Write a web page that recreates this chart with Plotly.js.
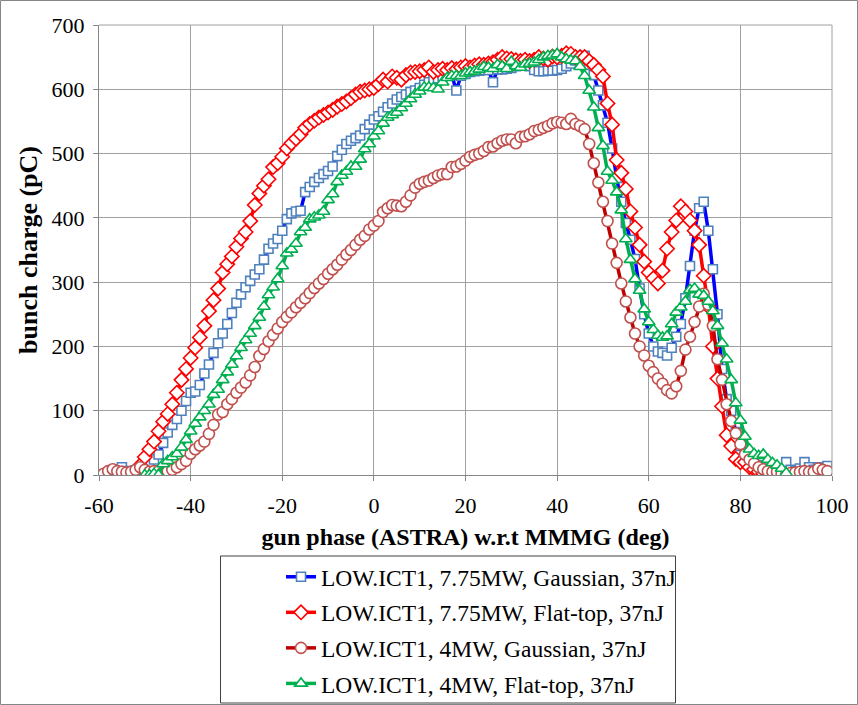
<!DOCTYPE html>
<html><head><meta charset="utf-8">
<script src="https://cdn.plot.ly/plotly-3.0.1.min.js"></script>
<style>body{margin:0;background:#fff}#chart{width:858px;height:705px}</style>
</head><body><div id="chart"></div>
<script>
// LOW.ICT1, 7.75MW, Gaussian, 37nJ
const gaussHighX = [-57,-56,-55,-54,-53,-52,-51,-50,-49,-48,-47,-46,-45,-44,-43,-42,-41,-40,-39,-38,-37,-36,-35,-34,-33,-32,-31,-30,-29,-28,-27,-26,-25,-24,-23,-22,-21,-20,-19,-18,-17,-16,-15,-14,-13,-12,-11,-10,-9,-8,-7,-6,-5,-4,-3,-2,-1,0,1,2,3,4,5,6,7,8,9,10,11,12,13,14,15,16,17,18,19,20,21,22,23,24,25,26,27,28,29,30,31,32,33,34,35,36,37,38,39,40,41,42,43,44,45,46,47,48,49,50,51,52,53,54,55,56,57,58,59,60,61,62,63,64,65,66,67,68,69,70,71,72,73,74,75,76,77,78,79,80,81,82,83,84,85,86,87,88,89,90,91,92,93,94,95,96,97,98,99,100];
const gaussHighY = [6,8,12,6,5,7,8,12,18,24,32,50,66,78,87,100,115,128,130,140,158,172,190,205,220,235,252,268,281,292,302,312,320,335,352,360,367,380,398,407,410,411,440,448,456,462,468,473,480,496,506,515,520,524,528,538,545,553,558,565,572,578,584,588,592,596,598,602,607,611,615,617,620,622,622,598,621,624,627,628,629,630,630,611,631,631,632,633,636,640,638,636,630,628,628,629,629,630,632,636,640,645,650,652,638,622,598,575,548,508,462,425,392,366,336,290,250,220,200,192,190,186,198,215,235,275,325,380,415,425,380,320,250,165,118,100,67,45,36,25,18,15,12,10,8,8,6,20,8,6,10,20,12,8,12,10,14,5];

// LOW.ICT1, 7.75MW, Flat-top, 37nJ
const flatHighX = [-53,-52,-51,-50,-49,-48,-47,-46,-45,-44,-43,-42,-41,-40,-39,-38,-37,-36,-35,-34,-33,-32,-31,-30,-29,-28,-27,-26,-25,-24,-23,-22,-21,-20,-19,-18,-17,-16,-15,-14,-13,-12,-11,-10,-9,-8,-7,-6,-5,-4,-3,-2,-1,0,1,2,3,4,5,6,7,8,9,10,11,12,13,14,15,16,17,18,19,20,21,22,23,24,25,26,27,28,29,30,31,32,33,34,35,36,37,38,39,40,41,42,43,44,45,46,47,48,49,50,51,52,53,54,55,56,57,58,59,60,61,62,63,64,65,66,67,68,69,70,71,72,73,74,75,76,77,78,79,80,81,82,83,84,85,86,87];
const flatHighY = [0,5,15,28,40,52,68,83,95,110,128,148,165,182,198,214,232,255,272,290,315,328,340,355,368,378,395,420,438,450,460,479,485,495,508,516,523,530,540,546,551,556,560,564,568,573,577,581,586,592,596,598,600,602,608,615,612,620,618,615,622,626,627,628,630,634,627,630,632,630,633,631,634,636,634,637,639,638,640,642,646,650,648,647,645,644,646,644,646,650,648,646,651,650,652,656,655,650,650,650,644,638,630,620,578,545,490,470,445,410,385,358,332,315,306,298,318,352,378,396,418,410,396,380,358,310,262,200,150,107,62,45,25,20,20,12,9,5,2,2,0];

// LOW.ICT1, 4MW, Gaussian, 37nJ
const gaussLowX = [-59,-58,-57,-56,-55,-54,-53,-52,-51,-50,-49,-48,-47,-46,-45,-44,-43,-42,-41,-40,-39,-38,-37,-36,-35,-34,-33,-32,-31,-30,-29,-28,-27,-26,-25,-24,-23,-22,-21,-20,-19,-18,-17,-16,-15,-14,-13,-12,-11,-10,-9,-8,-7,-6,-5,-4,-3,-2,-1,0,1,2,3,4,5,6,7,8,9,10,11,12,13,14,15,16,17,18,19,20,21,22,23,24,25,26,27,28,29,30,31,32,33,34,35,36,37,38,39,40,41,42,43,44,45,46,47,48,49,50,51,52,53,54,55,56,57,58,59,60,61,62,63,64,65,66,67,68,69,70,71,72,73,74,75,76,77,78,79,80,81,82,83,84,85,86,87,88,89,90,91,92,93,94,95,96,97,98,99];
const gaussLowY = [2,6,9,6,5,4,5,8,12,8,5,6,6,5,6,8,12,17,22,33,40,46,52,64,78,94,98,110,118,128,136,144,155,168,185,196,208,218,228,238,246,253,261,268,275,283,291,298,305,313,320,327,335,343,350,358,366,372,382,388,395,409,415,420,419,418,425,435,447,453,456,458,462,466,468,468,479,480,484,489,495,498,500,504,510,511,516,520,522,522,516,526,527,530,535,537,540,543,547,549,548,546,554,546,543,538,515,485,455,425,395,360,330,298,270,245,220,200,186,170,160,150,142,132,127,138,162,195,215,238,262,282,265,232,180,148,110,84,65,48,32,24,18,12,9,6,5,5,2,0,3,4,5,6,5,5,10,8,6];

// LOW.ICT1, 4MW, Flat-top, 37nJ
const flatLowX = [-50,-49,-48,-47,-46,-45,-44,-43,-42,-41,-40,-39,-38,-37,-36,-35,-34,-33,-32,-31,-30,-29,-28,-27,-26,-25,-24,-23,-22,-21,-20,-19,-18,-17,-16,-15,-14,-13,-12,-11,-10,-9,-8,-7,-6,-5,-4,-3,-2,-1,0,1,2,3,4,5,6,7,8,9,10,11,12,13,14,15,16,17,18,19,20,21,22,23,24,25,26,27,28,29,30,31,32,33,34,35,36,37,38,39,40,41,42,43,44,45,46,47,48,49,50,51,52,53,54,55,56,57,58,59,60,61,62,63,64,65,66,67,68,69,70,71,72,73,74,75,76,77,78,79,80,81,82,83,84,85,86,87,88,89,90];
const flatLowY = [0,0,2,0,17,22,28,33,43,55,68,80,90,100,110,125,133,148,160,172,185,198,210,220,232,245,262,280,292,305,325,345,351,360,378,385,398,401,404,410,428,437,456,466,472,480,480,491,507,515,527,535,547,556,560,564,571,578,585,592,597,603,603,602,600,611,618,621,621,621,625,627,628,631,635,634,632,638,636,632,643,636,634,639,640,642,646,650,652,653,655,650,647,645,644,635,621,598,572,540,512,472,458,440,412,367,335,305,287,258,238,226,217,214,216,235,253,261,270,288,290,281,279,270,255,232,205,180,148,112,85,60,40,33,30,32,24,19,15,10,3];

const seriesNames = ['LOW.ICT1, 7.75MW, Gaussian, 37nJ','LOW.ICT1, 7.75MW, Flat-top, 37nJ','LOW.ICT1, 4MW, Gaussian, 37nJ','LOW.ICT1, 4MW, Flat-top, 37nJ'];
const xTicks = [-60,-40,-20,0,20,40,60,80,100];
const yTicks = [0,100,200,300,400,500,600,700];

const FONT = 'Liberation Serif, Times New Roman, serif';
function tr(x, y, name, lineColor, sym, mColor, mSize, grp) {
  return {x: x, y: y, name: name, type: 'scatter', mode: 'lines+markers', legendgroup: grp,
    line: {color: lineColor, width: 3.5},
    marker: {symbol: sym, size: mSize, color: '#ffffff', line: {color: mColor, width: 1.6}}};
}
const data = [
  tr(gaussHighX, gaussHighY, seriesNames[0], '#0000FF', 'square', '#4F81BD', 9, 'a'),
  tr(flatHighX, flatHighY, seriesNames[1], '#FF0000', 'diamond', '#FF0000', 11, 'b'),
  tr(gaussLowX, gaussLowY, seriesNames[2], '#C00000', 'circle', '#C0504D', 11, 'c'),
  tr(flatLowX, flatLowY, seriesNames[3], '#00B050', 'triangle-up', '#00B050', 11, 'd')
];
const L = 99, R = 26, T = 25, B = 230, W = 858, H = 705;
const pw = W - L - R, ph = H - T - B;
const px = v => (v - L) / pw;
const py = v => (H - B - v) / ph;
const layout = {
  width: W, height: H,
  margin: {l: L, r: R, t: T, b: B, autoexpand: false},
  paper_bgcolor: '#fff', plot_bgcolor: '#fff',
  font: {family: FONT, size: 22, color: '#000'},
  showlegend: true,
  legend: {x: px(281), y: py(555), xanchor: 'left', yanchor: 'top', bgcolor: 'rgba(0,0,0,0)',
    borderwidth: 0, font: {family: FONT, size: 23.5, color: '#000'}, tracegroupgap: 2, traceorder: 'grouped'},
  xaxis: {range: [-60, 100], tickvals: xTicks, ticktext: xTicks.map(String), showgrid: true, gridcolor: '#A0A0A0', gridwidth: 1,
    zeroline: false, showline: true, linecolor: '#868686', linewidth: 1, ticks: 'outside', ticklen: 5, tickcolor: '#868686',
    ticklabelstandoff: 6, automargin: false,
    tickfont: {family: FONT, size: 22, color: '#000'},
    title: {text: 'gun phase (ASTRA) w.r.t MMMG (deg)', font: {family: FONT, size: 24, color: '#000', weight: 'bold'}, standoff: 10}},
  yaxis: {range: [0, 700], tickvals: yTicks, ticktext: yTicks.map(String), showgrid: true, gridcolor: '#A0A0A0', gridwidth: 1,
    zeroline: false, showline: true, linecolor: '#868686', linewidth: 1, ticks: 'outside', ticklen: 5, tickcolor: '#868686',
    ticklabelstandoff: 4, automargin: false,
    tickfont: {family: FONT, size: 22, color: '#000'},
    title: {text: 'bunch charge (pC)', font: {family: FONT, size: 26, color: '#000', weight: 'bold'}, standoff: 6}},
  shapes: [
    {type: 'rect', xref: 'paper', yref: 'paper', x0: px(220.5), x1: px(675.5), y0: py(703), y1: py(556), line: {color: '#404040', width: 1}, fillcolor: 'rgba(0,0,0,0)'},
    {type: 'rect', xref: 'paper', yref: 'paper', x0: px(0.5), x1: px(857.5), y0: py(704.5), y1: py(0.5), line: {color: '#868686', width: 1}, fillcolor: 'rgba(0,0,0,0)'},
    {type: 'line', xref: 'paper', yref: 'paper', x0: 0, x1: 1, y0: 1, y1: 1, line: {color: '#A0A0A0', width: 1}},
    {type: 'line', xref: 'paper', yref: 'paper', x0: 1, x1: 1, y0: 0, y1: 1, line: {color: '#A0A0A0', width: 1}}
  ]
};
Plotly.newPlot('chart', data, layout, {displayModeBar: false, staticPlot: true});
</script></body></html>
